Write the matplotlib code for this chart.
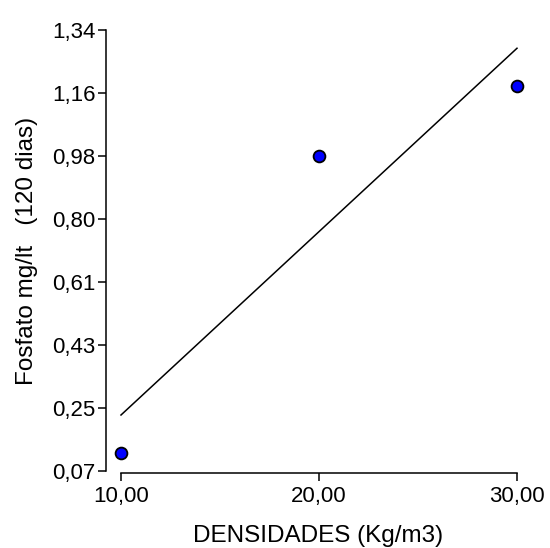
import numpy as np
import matplotlib
matplotlib.use('Agg')
import matplotlib.pyplot as plt

plt.rcParams['font.family'] = ['Liberation Sans', 'DejaVu Sans']

# phosphate measured at 120 days for each stocking density
densidades = [10.0, 20.0, 30.0]
fosfato = [0.124, 0.977, 1.179]

x_ticks = [10.0, 20.0, 30.0]
x_labels = ['10,00', '20,00', '30,00']
y_ticks = list(np.linspace(0.07, 1.34, 8))
y_labels = ['0,07', '0,25', '0,43', '0,61', '0,80', '0,98', '1,16', '1,34']

# least squares line through the three points
slope, inter = np.polyfit(densidades, fosfato, 1)
xl = np.array([10.0, 30.0])
yl = slope * xl + inter

fig = plt.figure(figsize=(5.5, 5.48), dpi=100)
W, H = 550, 548
left, right, top, bottom = 106, 530, 30, 472.5
ax = fig.add_axes([left / W, 1 - bottom / H, (right - left) / W, (bottom - top) / H])

px_x = 19.8             # pixels per x unit
px_y = 63 / (1.27 / 7)  # pixels per y unit
ax.set_xlim(10 - (121 - left) / px_x, 30 + (right - 517) / px_x)
ax.set_ylim(0.07 - (bottom - 471.5) / px_y, 1.34)

ax.plot(xl, yl, color='black', lw=1.1, clip_on=False)
ax.plot(densidades, fosfato, 'o', ms=8.5, mfc='#0000ff', mec='black',
        mew=1.3, clip_on=False, zorder=3)

for s in ['top', 'right']:
    ax.spines[s].set_visible(False)
ax.spines['left'].set_bounds(0.07, 1.34)
ax.spines['bottom'].set_bounds(10, 30)
for s in ['left', 'bottom']:
    ax.spines[s].set_linewidth(1.1)

ax.set_xticks(x_ticks)
ax.set_xticklabels(x_labels)
ax.set_yticks(y_ticks)
ax.set_yticklabels(y_labels)
ax.tick_params(direction='out', length=6, width=1.1, labelsize=16,
               colors='black', pad=1.5)
ax.tick_params(axis='x', pad=4)

ax.set_xlabel('DENSIDADES (Kg/m3)', fontsize=17.5, labelpad=13)
ax.set_ylabel('Fosfato mg/lt   (120 dias)', fontsize=17.5, labelpad=10)

fig.savefig('out.png', dpi=100)
